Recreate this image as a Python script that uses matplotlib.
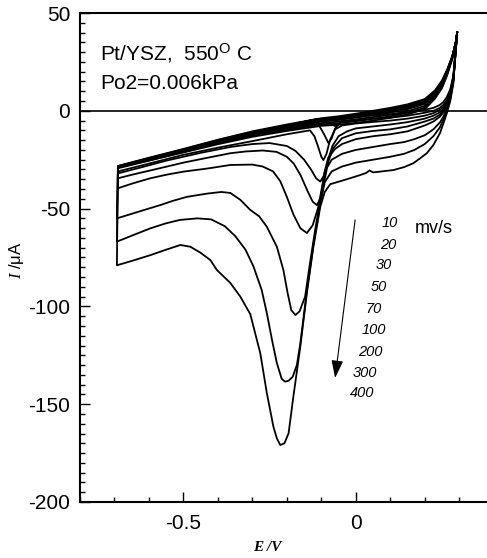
import matplotlib
matplotlib.use("Agg")
import matplotlib.pyplot as plt
from matplotlib.ticker import MultipleLocator, FixedLocator

plt.rcParams['font.family'] = ['Liberation Sans', 'DejaVu Sans']
plt.rcParams['mathtext.fontset'] = 'custom'
plt.rcParams['mathtext.rm'] = 'Liberation Sans'
plt.rcParams['mathtext.it'] = 'Liberation Serif:italic'

SCAN_RATES = ["10", "20", "30", "50", "70", "100", "200", "300", "400"]

# Cathodic sweeps, from the positive vertex down to -0.69 V (E in V, I in uA)
CATH_V_10 = [0.294, 0.290, 0.283, 0.274, 0.264, 0.254, 0.244, 0.225, 0.200, 0.150, 0.100, 0.050, 0.000, -0.025, -0.040, -0.050, -0.060, -0.070, -0.085, -0.100, -0.120, -0.200, -0.300, -0.400, -0.500, -0.600, -0.690]
CATH_I_10 = [40.0, 32.0, 18.0, 11.0, 7.0, 4.5, 3.0, 1.5, 0.5, -1.0, -1.8, -2.3, -2.8, -3.5, -5.0, -7.0, -7.8, -7.0, -5.0, -4.2, -4.5, -7.5, -11.0, -15.5, -20.0, -24.5, -28.5]

CATH_V_20 = [0.294, 0.290, 0.283, 0.274, 0.264, 0.254, 0.244, 0.225, 0.200, 0.150, 0.100, 0.050, 0.000, -0.020, -0.045, -0.060, -0.070, -0.079, -0.092, -0.105, -0.123, -0.200, -0.300, -0.393, -0.500, -0.600, -0.690]
CATH_I_20 = [40.0, 32.0, 17.5, 10.0, 5.5, 3.0, 1.5, 0.0, -1.0, -2.5, -3.5, -4.0, -4.8, -5.0, -6.0, -9.0, -14.0, -16.6, -12.0, -8.0, -6.4, -9.0, -12.5, -16.1, -21.0, -25.5, -29.4]

CATH_V_30 = [0.294, 0.290, 0.283, 0.274, 0.264, 0.254, 0.244, 0.225, 0.200, 0.150, 0.100, 0.050, 0.000, -0.040, -0.060, -0.075, -0.085, -0.094, -0.100, -0.110, -0.120, -0.133, -0.200, -0.300, -0.393, -0.500, -0.600, -0.690]
CATH_I_30 = [40.0, 32.0, 17.0, 9.0, 4.5, 2.0, 0.5, -1.2, -2.5, -4.0, -5.0, -5.7, -6.5, -7.5, -9.5, -15.0, -22.0, -25.2, -23.5, -18.0, -13.0, -10.0, -12.0, -15.5, -18.6, -22.5, -27.0, -31.0]

CATH_V_50 = [0.294, 0.290, 0.283, 0.274, 0.264, 0.254, 0.244, 0.225, 0.200, 0.150, 0.100, 0.050, 0.000, -0.025, -0.050, -0.068, -0.080, -0.092, -0.103, -0.115, -0.130, -0.150, -0.175, -0.200, -0.250, -0.300, -0.364, -0.450, -0.550, -0.620, -0.690]
CATH_I_50 = [40.0, 31.0, 16.5, 8.0, 3.5, 1.0, -0.8, -2.5, -4.0, -5.8, -7.0, -8.0, -9.0, -10.5, -13.0, -18.0, -25.0, -33.0, -36.2, -34.5, -30.0, -25.0, -20.5, -18.0, -16.5, -17.0, -18.5, -21.5, -25.5, -28.8, -32.0]

CATH_V_70 = [0.294, 0.290, 0.283, 0.274, 0.264, 0.254, 0.244, 0.225, 0.200, 0.150, 0.100, 0.050, 0.000, -0.040, -0.065, -0.080, -0.090, -0.100, -0.113, -0.125, -0.140, -0.160, -0.180, -0.200, -0.230, -0.270, -0.320, -0.364, -0.430, -0.500, -0.596, -0.645, -0.690]
CATH_I_70 = [40.0, 31.0, 16.0, 7.5, 2.5, 0.0, -2.0, -4.0, -5.5, -8.0, -9.5, -10.3, -11.5, -14.0, -19.0, -26.0, -35.0, -44.0, -48.2, -46.5, -41.0, -33.0, -27.0, -23.5, -21.0, -20.3, -20.8, -21.7, -24.0, -26.5, -30.5, -32.5, -34.5]

CATH_V_100 = [0.294, 0.290, 0.283, 0.274, 0.264, 0.254, 0.244, 0.225, 0.200, 0.150, 0.100, 0.050, 0.000, -0.040, -0.060, -0.080, -0.090, -0.100, -0.110, -0.125, -0.142, -0.161, -0.181, -0.200, -0.219, -0.240, -0.270, -0.300, -0.364, -0.430, -0.500, -0.550, -0.596, -0.645, -0.690]
CATH_I_100 = [40.0, 31.0, 15.5, 7.0, 1.8, -0.8, -3.0, -5.5, -7.5, -10.5, -12.0, -13.0, -14.5, -17.0, -19.5, -24.0, -31.0, -41.0, -50.0, -58.5, -62.5, -60.0, -53.0, -44.0, -36.0, -31.0, -28.5, -27.5, -27.7, -29.5, -31.1, -32.7, -34.5, -37.0, -39.6]

CATH_V_200 = [0.294, 0.290, 0.283, 0.274, 0.264, 0.254, 0.244, 0.225, 0.200, 0.170, 0.140, 0.100, 0.050, 0.000, -0.040, -0.070, -0.090, -0.103, -0.118, -0.133, -0.147, -0.163, -0.175, -0.187, -0.198, -0.210, -0.229, -0.258, -0.280, -0.306, -0.335, -0.364, -0.390, -0.430, -0.490, -0.530, -0.567, -0.610, -0.645, -0.693]
CATH_I_200 = [40.0, 31.0, 15.5, 6.5, 1.0, -3.0, -6.0, -9.5, -12.5, -14.5, -16.0, -17.0, -18.5, -20.0, -22.0, -25.0, -31.0, -45.6, -61.0, -78.0, -95.0, -102.5, -104.4, -102.0, -93.0, -81.4, -69.5, -59.3, -54.0, -50.7, -45.5, -42.0, -41.5, -42.3, -44.0, -46.0, -48.2, -50.5, -52.4, -55.0]

CATH_V_300 = [0.294, 0.290, 0.283, 0.274, 0.264, 0.254, 0.244, 0.225, 0.200, 0.170, 0.140, 0.100, 0.050, 0.000, -0.040, -0.070, -0.090, -0.103, -0.123, -0.142, -0.161, -0.171, -0.183, -0.195, -0.205, -0.215, -0.229, -0.243, -0.258, -0.273, -0.297, -0.320, -0.350, -0.380, -0.420, -0.460, -0.510, -0.550, -0.596, -0.645, -0.693]
CATH_I_300 = [40.0, 31.0, 15.0, 6.0, 0.0, -4.5, -8.5, -13.0, -17.0, -20.0, -22.0, -23.5, -25.0, -26.5, -28.5, -31.0, -36.5, -47.5, -68.5, -92.0, -119.0, -130.0, -136.0, -138.0, -138.5, -137.0, -129.0, -117.2, -103.5, -91.6, -79.5, -71.0, -64.0, -59.0, -55.5, -55.0, -55.8, -57.5, -60.1, -63.5, -66.9]

CATH_V_400 = [0.294, 0.290, 0.283, 0.274, 0.264, 0.254, 0.244, 0.225, 0.206, 0.185, 0.167, 0.140, 0.109, 0.075, 0.050, 0.040, 0.030, 0.010, -0.017, -0.045, -0.074, -0.090, -0.103, -0.123, -0.142, -0.161, -0.181, -0.195, -0.207, -0.219, -0.229, -0.239, -0.258, -0.277, -0.306, -0.335, -0.364, -0.403, -0.422, -0.451, -0.480, -0.509, -0.550, -0.596, -0.645, -0.693]
CATH_I_400 = [40.0, 31.0, 14.0, 5.0, -1.3, -6.5, -11.5, -17.5, -21.7, -24.5, -26.8, -28.8, -30.3, -31.0, -31.5, -30.5, -31.8, -33.0, -34.5, -36.0, -37.5, -41.5, -49.0, -69.5, -93.3, -120.6, -146.0, -164.9, -170.0, -170.9, -167.5, -161.5, -144.4, -124.0, -104.0, -95.0, -88.0, -81.4, -76.3, -72.5, -69.5, -68.6, -71.0, -73.8, -76.5, -79.0]

# Anodic return sweeps, from -0.69 V back up to the positive vertex
ANOD_V = [-0.69, -0.6, -0.5, -0.4, -0.3, -0.2, -0.1, -0.05, 0.0, 0.05, 0.1, 0.15, 0.2, 0.23, 0.25, 0.265, 0.28, 0.29, 0.294]
ANOD_I_10 = [-28.2, -24.0, -19.5, -14.8, -10.5, -7.0, -3.8, -2.8, -1.5, 0.0, 1.5, 3.3, 6.0, 10.5, 15.5, 21.0, 28.0, 35.0, 40.0]
ANOD_I_20 = [-28.3, -24.2, -19.7, -15.0, -10.8, -7.3, -4.1, -3.2, -1.9, -0.5, 1.0, 2.8, 5.5, 10.1, 15.1, 20.8, 27.9, 35.0, 40.0]
ANOD_I_30 = [-28.4, -24.3, -19.9, -15.2, -11.0, -7.6, -4.4, -3.5, -2.3, -0.9, 0.5, 2.3, 5.0, 9.7, 14.7, 20.5, 27.8, 35.0, 40.0]
ANOD_I_50 = [-28.5, -24.5, -20.1, -15.5, -11.3, -7.9, -4.8, -3.9, -2.7, -1.3, 0.0, 1.8, 4.5, 9.3, 14.3, 20.2, 27.7, 35.0, 40.0]
ANOD_I_70 = [-28.6, -24.6, -20.2, -15.7, -11.5, -8.2, -5.1, -4.3, -3.1, -1.8, -0.5, 1.3, 4.0, 8.9, 13.9, 19.9, 27.6, 35.0, 40.0]
ANOD_I_100 = [-28.7, -24.8, -20.4, -15.9, -11.8, -8.5, -5.5, -4.7, -3.5, -2.3, -1.0, 0.8, 3.5, 8.5, 13.5, 19.6, 27.4, 35.0, 40.0]
ANOD_I_200 = [-28.8, -25.0, -20.7, -16.3, -12.3, -9.1, -6.3, -5.5, -4.4, -3.2, -2.0, -0.2, 2.5, 7.7, 12.8, 19.1, 27.1, 35.0, 40.0]
ANOD_I_300 = [-28.9, -25.2, -21.0, -16.7, -12.8, -9.7, -7.0, -6.3, -5.3, -4.1, -2.8, -1.0, 1.6, 7.0, 12.2, 18.6, 26.8, 35.0, 40.0]
ANOD_I_400 = [-29.0, -25.4, -21.3, -17.1, -13.3, -10.3, -7.7, -7.1, -6.2, -5.0, -3.6, -1.8, 0.8, 6.3, 11.6, 18.2, 26.6, 35.0, 40.0]

CATH_V = [CATH_V_10, CATH_V_20, CATH_V_30, CATH_V_50, CATH_V_70, CATH_V_100, CATH_V_200, CATH_V_300, CATH_V_400]
CATH_I = [CATH_I_10, CATH_I_20, CATH_I_30, CATH_I_50, CATH_I_70, CATH_I_100, CATH_I_200, CATH_I_300, CATH_I_400]
ANOD_I = [ANOD_I_10, ANOD_I_20, ANOD_I_30, ANOD_I_50, ANOD_I_70, ANOD_I_100, ANOD_I_200, ANOD_I_300, ANOD_I_400]

# Positions of the scan-rate list beside the arrow (E, I)
RATE_LABEL_E = [0.099, 0.094, 0.080, 0.066, 0.051, 0.051, 0.041, 0.027, 0.017]
RATE_LABEL_I = [-57.5, -68.6, -78.8, -90.2, -101.5, -112.1, -123.2, -134.2, -144.4]

fig = plt.figure(figsize=(4.87, 5.58), dpi=100)
ax = fig.add_axes([0.1643, 0.1004, 0.8357, 0.8763])

for cv, ci, ai in zip(CATH_V, CATH_I, ANOD_I):
    ax.plot(list(cv) + list(ANOD_V), list(ci) + list(ai), color='black', lw=1.3,
            solid_joinstyle='round')

ax.axhline(0, color='black', lw=1.2)

ax.set_xlim(-0.8, 0.3806)
ax.set_ylim(-200, 50)
ax.spines['right'].set_visible(False)
for s in ('left', 'bottom', 'top'):
    ax.spines[s].set_linewidth(1.5)

ax.xaxis.set_major_locator(FixedLocator([-0.5, 0.0]))
ax.xaxis.set_minor_locator(MultipleLocator(0.1))
ax.yaxis.set_major_locator(MultipleLocator(50))
ax.yaxis.set_minor_locator(MultipleLocator(5))
ax.set_xticklabels(['-0.5', '0'])
ax.set_yticks([-200, -150, -100, -50, 0, 50])
ax.set_yticklabels(['-200', '-150', '-100', '-50', '0', '50'])
ax.tick_params(which='both', direction='in', top=False, right=False, width=1.0)
ax.tick_params(which='major', length=7, labelsize=15)
ax.tick_params(which='minor', length=3.5)
ax.tick_params(axis='x', which='major', pad=9)
ax.tick_params(axis='y', which='major', pad=7)

fig.text(0.548, 0.018, 'E /V', family='Liberation Serif', style='italic',
         weight='bold', fontsize=11, ha='center', va='center')
fig.text(0.033, 0.534, r'$I$ /μA', fontsize=12, rotation=90, ha='center', va='center')

fig.text(100 / 487, 1 - 60 / 558, r'Pt/YSZ,  550$^{\rm O}$ C', fontsize=15,
         ha='left', va='baseline')
fig.text(100 / 487, 1 - 89 / 558, 'Po2=0.006kPa', fontsize=15, ha='left', va='baseline')

for lab, e, i in zip(SCAN_RATES, RATE_LABEL_E, RATE_LABEL_I):
    ax.text(e, i, lab, fontsize=10.5, style='italic', ha='center', va='center')
ax.text(0.225, -60.1, 'mv/s', fontsize=13, ha='center', va='center')

ax.annotate('', xy=(-0.060, -136.6), xytext=(-0.002, -55.8),
            arrowprops=dict(arrowstyle='-|>,head_length=0.6,head_width=0.2',
                            lw=0.8, color='black', mutation_scale=18,
                            shrinkA=0, shrinkB=0))

fig.savefig('out.png', dpi=100)
